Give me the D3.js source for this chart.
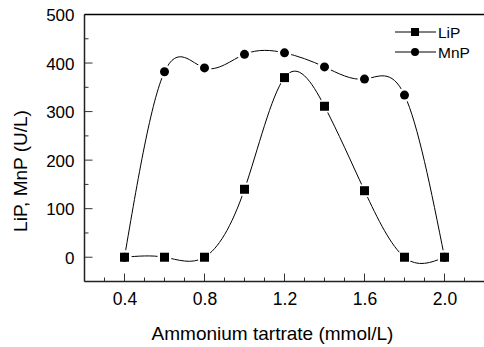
<!DOCTYPE html>
<html><head><meta charset="utf-8">
<script src="https://cdn.jsdelivr.net/npm/d3@7"></script>
<style>body{margin:0;background:#fff}svg{display:block}text{font-family:"Liberation Sans",Arial,sans-serif;fill:#000}</style>
</head><body><svg id="c" width="484" height="347"></svg>
<script>
const xValues = [0.4, 0.6, 0.8, 1.0, 1.2, 1.4, 1.6, 1.8, 2.0];
const lipValues = [0, 0, 0, 140, 370, 311, 137, 0, 0];
const mnpValues = [0, 382, 390, 418, 421, 392, 367, 334, 0];
const xTicks = [0.4, 0.8, 1.2, 1.6, 2.0];
const yTicks = [0, 100, 200, 300, 400, 500];
const seriesNames = ["LiP", "MnP"];

const svg = d3.select("#c");
const L = 84.5, R = 484.5, T = 14.5, B = 281.5;
const x = d3.scaleLinear().domain([0.2, 2.2]).range([L, R]);
const y = d3.scaleLinear().domain([-50, 500]).range([B, T]);
const FONT = "'Liberation Sans',Arial,sans-serif";

// mask for gaps around markers
const defs = svg.append("defs");
const mask = defs.append("mask").attr("id", "gap");
mask.append("rect").attr("x", 0).attr("y", 0).attr("width", 484).attr("height", 347).attr("fill", "#fff");
[lipValues, mnpValues].forEach(vals => {
  mask.selectAll(null).data(xValues).enter().append("circle")
    .attr("cx", (d) => x(d)).attr("cy", (d, i) => y(vals[i])).attr("r", 7).attr("fill", "#000");
});

// axes
const xAxis = d3.axisBottom(x).tickValues(xTicks).tickFormat(d3.format(".1f")).tickSize(0);
const gx = svg.append("g").attr("transform", `translate(0,${B})`).call(xAxis);
gx.select(".domain").remove();
gx.selectAll("text").attr("font-size", 17.5).attr("dy", null).attr("y", 23.5).style("font-family", FONT);

const yAxis = d3.axisLeft(y).tickValues(yTicks).tickSize(0).tickPadding(10);
const gy = svg.append("g").attr("transform", `translate(${L},0)`).call(yAxis);
gy.select(".domain").remove();
gy.selectAll("text").attr("font-size", 17).attr("dy", "0.36em").style("font-family", FONT);

// inward ticks
const xMinor = d3.range(0.3, 2.21, 0.1).map(v => +v.toFixed(1)).filter(v => v > 0.2);
svg.append("g").selectAll("line").data(xMinor).enter().append("line")
  .attr("x1", d => x(d)).attr("x2", d => x(d))
  .attr("y1", B).attr("y2", d => (Math.round(d * 10) % 4 === 0) ? B - 8 : B - 4)
  .attr("stroke", "#333").attr("stroke-width", 1);
const yMinor = d3.range(-50, 501, 50);
svg.append("g").selectAll("line").data(yMinor).enter().append("line")
  .attr("y1", d => y(d)).attr("y2", d => y(d))
  .attr("x1", L).attr("x2", d => (d % 100 === 0) ? L + 8 : L + 4)
  .attr("stroke", "#333").attr("stroke-width", 1);

// frame lines
svg.append("line").attr("x1", L).attr("x2", R).attr("y1", B).attr("y2", B).attr("stroke", "#222").attr("stroke-width", 1.5);
svg.append("line").attr("x1", L).attr("x2", L).attr("y1", T).attr("y2", B).attr("stroke", "#222").attr("stroke-width", 1.5);
svg.append("line").attr("x1", L).attr("x2", R).attr("y1", T).attr("y2", T).attr("stroke", "#000").attr("stroke-width", 1.3);

// lines
const line = d3.line().x(d => x(d[0])).y(d => y(d[1])).curve(d3.curveNatural);
const lg = svg.append("g").attr("mask", "url(#gap)");
lg.append("path").attr("d", line(xValues.map((v, i) => [v, mnpValues[i]])))
  .attr("fill", "none").attr("stroke", "#000").attr("stroke-width", 1);
lg.append("path").attr("d", line(xValues.map((v, i) => [v, lipValues[i]])))
  .attr("fill", "none").attr("stroke", "#000").attr("stroke-width", 1);

// markers
svg.append("g").selectAll("circle").data(xValues).enter().append("circle")
  .attr("cx", d => x(d)).attr("cy", (d, i) => y(mnpValues[i])).attr("r", 4.5).attr("fill", "#000");
svg.append("g").selectAll("rect").data(xValues).enter().append("rect")
  .attr("x", d => x(d) - 4.5).attr("y", (d, i) => y(lipValues[i]) - 4.5)
  .attr("width", 9).attr("height", 9).attr("fill", "#000");

// legend
const leg = svg.append("g");
seriesNames.forEach((name, i) => {
  const ly = 32 + i * 20;
  leg.append("line").attr("x1", 395).attr("x2", 436).attr("y1", ly).attr("y2", ly).attr("stroke", "#000").attr("stroke-width", 1);
  if (i === 0) leg.append("rect").attr("x", 411).attr("y", ly - 4).attr("width", 8).attr("height", 8).attr("fill", "#000");
  else leg.append("circle").attr("cx", 415).attr("cy", ly).attr("r", 4).attr("fill", "#000");
  leg.append("text").attr("x", 438).attr("y", ly + 5.5).attr("font-size", 15.5).text(name);
});

// axis titles
svg.append("text").attr("x", 272.5).attr("y", 340).attr("text-anchor", "middle").attr("font-size", 19).text("Ammonium tartrate (mmol/L)");
svg.append("text").attr("transform", "translate(27,171) rotate(-90)").attr("text-anchor", "middle").attr("font-size", 19).text("LiP, MnP (U/L)");
</script></body></html>
